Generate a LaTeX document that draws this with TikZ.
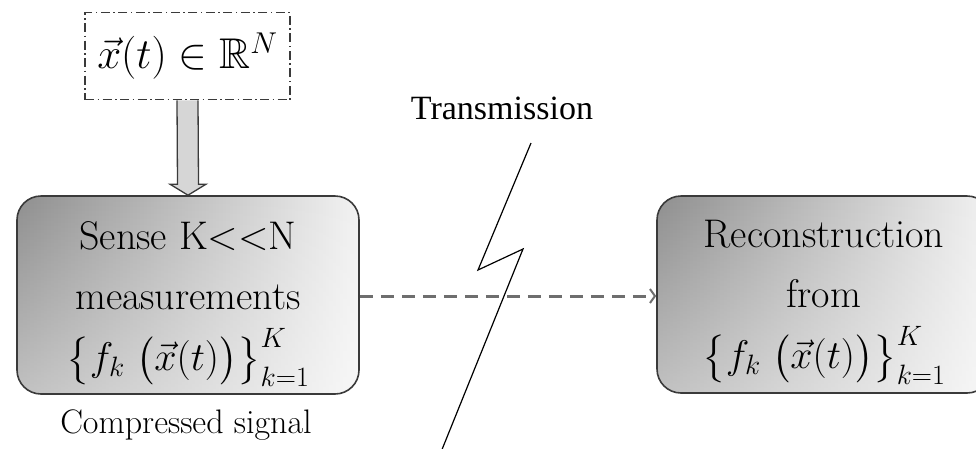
\RequirePackage{fix-cm}
\documentclass[tikz,border=0pt]{standalone}
\usepackage{amsmath}
\usepackage{amssymb}
\usepackage{fontspec}
\newfontfamily\timesfont{Liberation Serif}
\usetikzlibrary{arrows.meta,calc,fadings}
\definecolor{boxline}{HTML}{3A3A3A}
\definecolor{linkgray}{HTML}{6E6E6E}
\definecolor{arrowfill}{HTML}{D6D6D6}
\newcommand{\meas}{{\fontsize{40}{48}\selectfont
  $\bigl\{f_{k}\;\bigl(\vec{x}(t)\bigr)\bigr\}_{k=1}^{K}$}}
\tikzset{
  blockbox/.style={draw=boxline, line width=1.6pt, rounded corners=24pt,
    inner sep=0pt,
    path picture={
      \fill[left color=gray!88, right color=gray!10]
        (path picture bounding box.south west) rectangle (path picture bounding box.north east);
      \fill[white, opacity=0.45, path fading=north]
        (path picture bounding box.south west) rectangle (path picture bounding box.north east);
    }},
  blocktext/.style={align=center, inner sep=0pt,
    font=\fontsize{40}{60}\selectfont},
  inputbox/.style={draw=boxline, line width=1.5pt,
    dash pattern=on 9pt off 3.5pt on 1.5pt off 3.5pt,
    minimum width=205pt, minimum height=87pt, inner sep=0pt,
    font=\fontsize{43}{48}\selectfont},
  hollowarrow/.style={draw=boxline, line width=1.3pt, fill=arrowfill, line join=miter},
  linkarrow/.style={draw=linkgray, line width=3pt, dash pattern=on 13pt off 8pt,
    -{Straight Barb[length=5pt,width=14pt,line width=2pt]}},
  bolt/.style={draw=black, line width=1.2pt, line join=miter},
  caption/.style={font=\fontsize{34}{40}\selectfont, inner sep=0pt},
}
\begin{document}
\begin{tikzpicture}[x=1pt,y=-1pt]
  \useasboundingbox (0,0) rectangle (976,448);
  \clip (0,0) rectangle (976,448);

  % signal to be sensed
  \node[inputbox] (in) at (187.5,56) {$\vec{x}(t)\in\mathbb{R}^{N}$};

  % sensing block and reconstruction block
  \node[blockbox, minimum width=342pt, minimum height=198pt] (sense) at (188,295) {};
  \node[blockbox, minimum width=334pt, minimum height=197pt] (recon) at (824,294.5) {};
  \node[blocktext] (sensetext) at ($(sense.center)+(0,9)$)
    {Sense K<\kern0pt<N\\measurements\\[1pt]\meas};
  \node[blocktext] (recontext) at ($(recon.center)+(0,8)$)
    {Reconstruction\\from\\[1pt]\meas};

  % hollow arrow from the signal into the sensing block
  \draw[hollowarrow]
    ($(in.south)+(-10.5,0)$) -- ($(sense.north)+(-10.5,-11)$)
    -- ($(sense.north)+(-18,-11)$) -- (sense.north)
    -- ($(sense.north)+(18,-11)$) -- ($(sense.north)+(10.5,-11)$)
    -- ($(in.south)+(10.5,0)$);

  % transmission link
  \draw[linkarrow] (sense.east |- 0,296) -- (recon.west |- 0,296);

  % lightning bolt of the channel
  \coordinate (b1) at (531,143);
  \coordinate (b2) at (478,270);
  \coordinate (b3) at (523,249);
  \coordinate (b4) at (441,452);
  \draw[bolt] (b1) -- (b2) -- (b3) -- (b4);

  \node[font=\timesfont\fontsize{34}{40}\selectfont, inner sep=0pt] (tx) at (502,108) {Transmission};
  \node[caption] (cs) at (186,425) {Compressed signal};
\end{tikzpicture}
\end{document}
